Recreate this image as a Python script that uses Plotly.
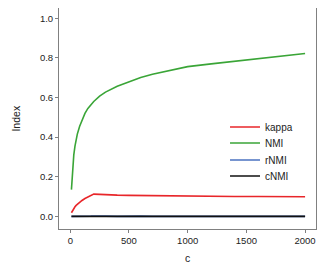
import plotly.graph_objects as go

c = [10, 20, 30, 40, 50, 60, 80, 100, 125, 150, 175, 200, 250, 300, 400, 500, 600, 700, 800, 900, 1000, 1200, 1400, 1600, 1800, 2000]
nmi = [0.135, 0.25, 0.31, 0.355, 0.39, 0.415, 0.455, 0.488, 0.52, 0.545, 0.565, 0.58, 0.607, 0.627, 0.657, 0.681, 0.701, 0.717, 0.731, 0.743, 0.756, 0.770, 0.783, 0.795, 0.809, 0.822]
kappa = [0.018, 0.03, 0.04, 0.048, 0.055, 0.061, 0.072, 0.08, 0.09, 0.098, 0.105, 0.112, 0.111, 0.109, 0.107, 0.106, 0.105, 0.104, 0.103, 0.102, 0.102, 0.101, 0.100, 0.100, 0.099, 0.099]
rnmi = [0.0, 0.0, 0.0, 0.0, -0.001, -0.001, -0.002, -0.002, 0.0, 0.0, 0.001, 0.002, 0.003, 0.001, 0.0, 0.002, 0.001, 0.0, 0.0, 0.001, 0.0, 0.0, 0.001, 0.0, 0.0, 0.0]
cnmi = [0.0, 0.0, 0.0, 0.0, 0.0, 0.0, 0.0, 0.0, 0.0, 0.0, 0.0, 0.0, 0.001, 0.0, 0.0, 0.001, 0.0, 0.0, 0.0, 0.0, 0.0, 0.0, 0.0, 0.0, 0.0, 0.0]

series = [("kappa", kappa, "#e8262a"), ("NMI", nmi, "#3aa537"), ("rNMI", rnmi, "#4a72c0"), ("cNMI", cnmi, "#111111")]
legend_rows = [0.4615, 0.389, 0.312, 0.24]

FONT = "Liberation Sans, Arial, sans-serif"
fig = go.Figure()
legend_layouts = {}
for i, (name, vals, col) in enumerate(series):
    key = "legend" if i == 0 else f"legend{i+1}"
    fig.add_trace(go.Scatter(x=c, y=vals, mode="lines", name=name, legend=key,
                             line=dict(color=col, width=1.6)))
    legend_layouts[key] = dict(x=0.646, y=legend_rows[i], xanchor="left", yanchor="middle",
                               bgcolor="rgba(0,0,0,0)", font=dict(family=FONT, size=10, color="#222222"),
                               itemwidth=30, borderwidth=0)

axis_common = dict(showgrid=False, zeroline=False, showline=True, linecolor="#808080", linewidth=1,
                   mirror=True, ticks="outside", ticklen=3, tickcolor="#808080", automargin=False,
                   tickfont=dict(family=FONT, size=9.5, color="#222222"))

fig.update_layout(
    width=319, height=265,
    margin=dict(l=51, r=11, t=0, b=44),
    paper_bgcolor="white", plot_bgcolor="white",
    font=dict(family=FONT, size=10, color="#222222"),
    xaxis=dict(range=[-96, 2093], tickvals=[0, 500, 1000, 1500, 2000], **axis_common),
    yaxis=dict(range=[-0.064, 1.052], tickvals=[0, 0.2, 0.4, 0.6, 0.8, 1.0], tickformat=".1f", **axis_common),
    showlegend=True,
    annotations=[
        dict(text="c", xref="paper", yref="paper", x=0.5, y=-0.131, xanchor="center", yanchor="middle",
             showarrow=False, font=dict(family=FONT, size=10.5, color="#222222")),
        dict(text="Index", xref="paper", yref="paper", x=-0.171, y=0.5, xanchor="center", yanchor="middle",
             textangle=-90, showarrow=False, font=dict(family=FONT, size=10.5, color="#222222")),
    ],
    **legend_layouts,
)

fig.write_html("out.html")
